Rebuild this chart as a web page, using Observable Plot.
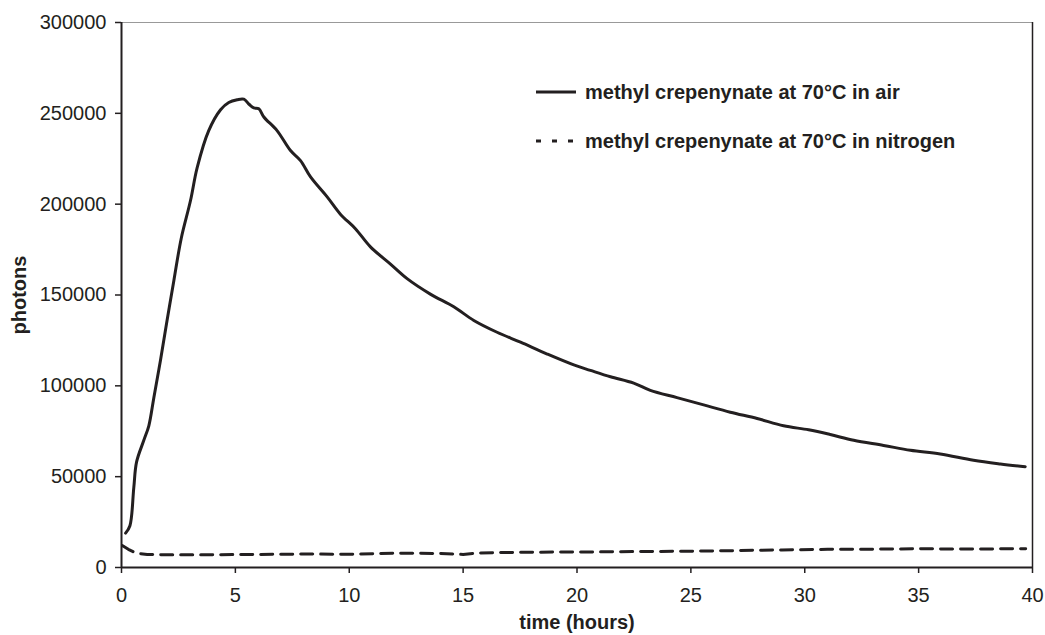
<!DOCTYPE html>
<html>
<head>
<meta charset="utf-8">
<script src="https://cdn.jsdelivr.net/npm/d3@7"></script>
<script src="https://cdn.jsdelivr.net/npm/@observablehq/plot@0.6"></script>
<style>
  html, body { margin: 0; padding: 0; background: #fff; }
  #wrap { position: relative; width: 1045px; height: 635px; font-family: "Liberation Sans", Arial, sans-serif; }
  .leg { position: absolute; left: 535px; display: flex; align-items: center; font-weight: bold; font-size: 20px; color: #231f20; white-space: nowrap; }
  .leg svg { margin-right: 8px; }
</style>
</head>
<body>
<div id="wrap"></div>
<script>
// Series: methyl crepenynate at 70°C in air
const airTime = [0.18, 0.37, 0.54, 0.66, 0.98, 1.2, 1.42, 1.71, 2.0, 2.3, 2.62, 3.03, 3.32, 3.83, 4.35, 4.71, 5.08, 5.37, 5.6, 5.81, 6.03, 6.25, 6.83, 7.42, 7.86, 8.3, 9.03, 9.61, 10.27, 10.93, 11.81, 12.54, 13.56, 14.59, 15.47, 16.49, 17.52, 18.69, 19.86, 20.59, 21.47, 22.49, 23.22, 24.39, 25.56, 26.73, 27.91, 29.07, 30.17, 31.12, 32.15, 33.46, 34.64, 35.95, 37.41, 38.59, 39.68];
const airPhotons = [18900, 23000, 44000, 58000, 70000, 78000, 93500, 114000, 136000, 158000, 181000, 202000, 220000, 240500, 252000, 256000, 257500, 257800, 255000, 253000, 252500, 248000, 240500, 229500, 224000, 215000, 204000, 194500, 186500, 176500, 167000, 159000, 150500, 143500, 136000, 129500, 124000, 117500, 111500, 108500, 105000, 101500, 97500, 93500, 89500, 85500, 82000, 78000, 75800, 73200, 70000, 67200, 64500, 62500, 59000, 57000, 55500];

// Series: methyl crepenynate at 70°C in nitrogen
const n2Time = [0.05, 0.3, 0.54, 0.8, 1.13, 2, 4, 6, 8, 10, 12, 14, 15, 15.6, 17, 19, 21, 23, 25, 27, 29, 31, 33, 35, 37, 39.7];
const n2Photons = [12000, 10000, 8500, 7700, 7200, 7000, 7000, 7200, 7400, 7300, 7900, 7700, 7200, 8000, 8300, 8500, 8600, 8800, 9000, 9300, 9700, 10000, 10100, 10300, 10200, 10300];

const xTicks = [0, 5, 10, 15, 20, 25, 30, 35, 40];
const yTicks = [0, 50000, 100000, 150000, 200000, 250000, 300000];
const seriesNames = ["methyl crepenynate at 70°C in air", "methyl crepenynate at 70°C in nitrogen"];

const air = airTime.map((t, i) => ({t, v: airPhotons[i]}));
const n2 = n2Time.map((t, i) => ({t, v: n2Photons[i]}));

const ink = "#231f20";

const chart = Plot.plot({
  width: 1045,
  height: 635,
  marginLeft: 121,
  marginRight: 13,
  marginTop: 22,
  marginBottom: 68,
  style: { fontFamily: "Liberation Sans, Arial, sans-serif", fontSize: "20px", color: ink, background: "#fff" },
  x: { domain: [0, 40] },
  y: { domain: [0, 300000] },
  marks: [
    Plot.ruleY([300000], { stroke: "#999", strokeWidth: 1 }),
    Plot.ruleX([40], { stroke: ink, strokeWidth: 1.5 }),
    Plot.axisX({ ticks: xTicks, tickSize: 6, tickPadding: 14, tickFormat: d => String(d), stroke: ink, strokeWidth: 1.5, fill: ink, fontSize: 20,
      label: "time (hours)", labelAnchor: "center", labelArrow: "none", labelOffset: 61 }),
    Plot.axisY({ ticks: yTicks, tickSize: 6, tickPadding: 9, tickFormat: d => String(d), stroke: ink, strokeWidth: 1.5, fill: ink, fontSize: 20,
      label: "photons", labelAnchor: "center", labelArrow: "none", labelOffset: 110 }),
    Plot.line(n2, { x: "t", y: "v", stroke: ink, strokeWidth: 3, strokeDasharray: "12,8", curve: "linear" }),
    Plot.line(air, { x: "t", y: "v", stroke: ink, strokeWidth: 3, curve: "catmull-rom" }),
    Plot.ruleX([0], { stroke: ink, strokeWidth: 2 }),
    Plot.ruleY([0], { stroke: ink, strokeWidth: 2 })
  ]
});

// bold axis labels
chart.querySelectorAll("g[aria-label='x-axis label'] text, g[aria-label='y-axis label'] text").forEach(t => {
  t.setAttribute("font-weight", "bold");
  t.setAttribute("font-size", "20");
});

const wrap = document.getElementById("wrap");
wrap.appendChild(chart);

// legend
const legendRows = [
  { name: seriesNames[0], dash: null, top: 80 },
  { name: seriesNames[1], dash: "5,11", top: 129 }
];
legendRows.forEach(r => {
  const div = document.createElement("div");
  div.className = "leg";
  div.style.top = r.top + "px";
  const s = d3.create("svg").attr("width", 42).attr("height", 24);
  s.append("line").attr("x1", 1).attr("x2", 41).attr("y1", 12).attr("y2", 12)
    .attr("stroke", ink).attr("stroke-width", 3)
    .attr("stroke-dasharray", r.dash);
  div.appendChild(s.node());
  const span = document.createElement("span");
  span.textContent = r.name;
  div.appendChild(span);
  wrap.appendChild(div);
});
</script>
</body>
</html>
